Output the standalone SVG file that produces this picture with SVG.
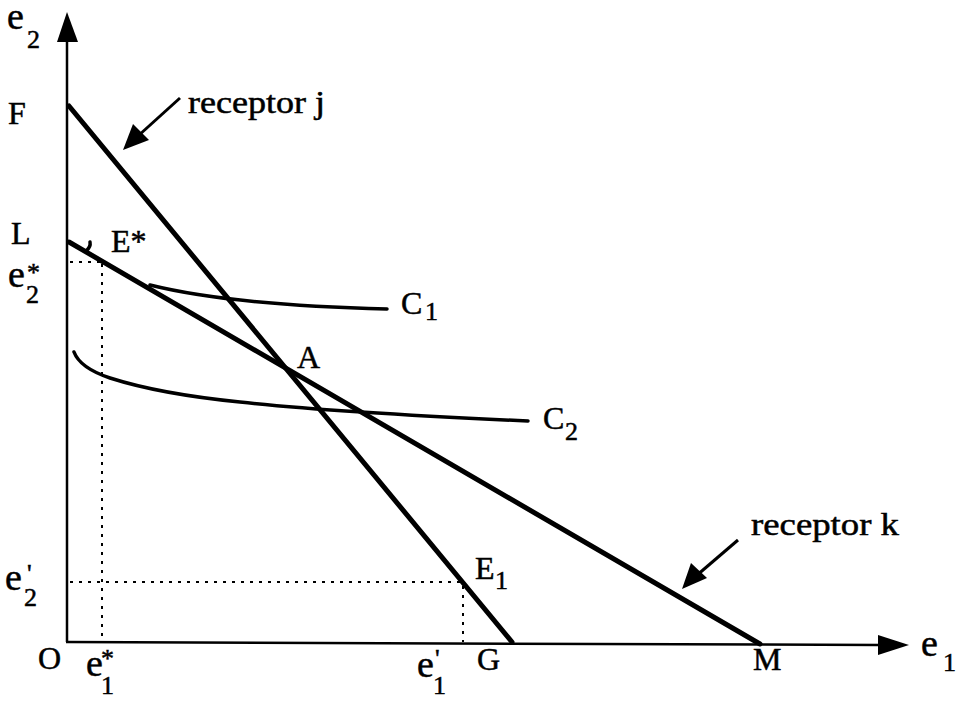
<svg xmlns="http://www.w3.org/2000/svg" width="961" height="703" viewBox="0 0 961 703">
<style>
.t{font-family:"Liberation Serif","Times New Roman",serif;fill:#000;stroke:#000;stroke-width:0.5}
.cap{font-size:32px}
.rec{font-size:31px}
.ev{font-size:38px}
.sub{font-size:26px}
.thick{stroke:#000;stroke-width:5;fill:none;stroke-linecap:round}
.curve{stroke:#000;stroke-width:3.5;fill:none;stroke-linecap:round}
.axis{stroke:#000;stroke-width:2.5;fill:none}
.dot{stroke:#000;stroke-width:2;stroke-dasharray:3 6;fill:none}
</style>
<rect width="961" height="703" fill="#fff"/>
<g id="axes">
<line class="axis" x1="67" y1="642" x2="67" y2="40"/>
<polygon points="67,12 57,42 78,42" fill="#000"/>
<line class="axis" x1="66" y1="642" x2="880" y2="645"/>
<polygon points="909,645 878,635 878,655" fill="#000"/>
</g>
<g id="connectors">
<line class="thick" x1="69" y1="106" x2="512" y2="642"/>
<line class="thick" x1="69" y1="242" x2="760" y2="644"/>
<path class="curve" d="M150,285 Q230,305 387,309"/>
<path class="curve" d="M74,352 Q80,368 110,378 Q160,394 240,402 Q330,412 528,421"/>
<path class="curve" d="M86,251 Q91,247 90,242"/>
<line class="dot" x1="70" y1="262" x2="102" y2="262"/>
<line class="dot" x1="102" y1="264" x2="102" y2="642"/>
<line class="dot" x1="70" y1="582" x2="463" y2="582"/>
<line class="dot" x1="463" y1="586" x2="463" y2="642"/>
<line stroke="#000" stroke-width="3" x1="180" y1="98" x2="138" y2="136"/>
<polygon points="123,150 133,124 149,140" fill="#000"/>
<line stroke="#000" stroke-width="3" x1="738" y1="540" x2="696" y2="576"/>
<polygon points="682,589 691,563 707,578" fill="#000"/>
</g>
<g id="label-e2"><text class="t ev" x="7" y="29">e</text><text class="t sub" x="27" y="48">2</text></g>
<g id="label-F"><text class="t cap" x="8" y="124">F</text></g>
<g id="label-receptor-j"><text class="t rec" x="188" y="113" textLength="137" lengthAdjust="spacingAndGlyphs">receptor j</text></g>
<g id="label-L"><text class="t cap" x="11" y="244">L</text></g>
<g id="label-Estar"><text class="t cap" x="111" y="252">E*</text></g>
<g id="label-e2star"><text class="t ev" x="8" y="287">e</text><text class="t sub" x="26" y="303">2</text><text class="t sub" x="27" y="281">*</text></g>
<g id="label-C1"><text class="t cap" x="401" y="314">C</text><text class="t sub" x="425" y="320">1</text></g>
<g id="label-A"><text class="t cap" x="297" y="368">A</text></g>
<g id="label-C2"><text class="t cap" x="543" y="429">C</text><text class="t sub" x="565" y="440">2</text></g>
<g id="label-receptor-k"><text class="t rec" x="751" y="535" textLength="148" lengthAdjust="spacingAndGlyphs">receptor k</text></g>
<g id="label-E1"><text class="t cap" x="475" y="579">E</text><text class="t sub" x="495" y="589">1</text></g>
<g id="label-e2prime"><text class="t ev" x="5" y="590">e</text><text class="t sub" x="24" y="606">2</text><text class="t sub" x="27" y="582">'</text></g>
<g id="label-O"><text class="t cap" x="38" y="669">O</text></g>
<g id="label-e1star"><text class="t ev" x="86" y="676">e</text><text class="t sub" x="101" y="694">1</text><text class="t sub" x="101" y="667">*</text></g>
<g id="label-e1prime"><text class="t ev" x="417" y="677">e</text><text class="t sub" x="433" y="694">1</text><text class="t sub" x="435" y="667">'</text></g>
<g id="label-G"><text class="t cap" x="477" y="670">G</text></g>
<g id="label-M"><text class="t cap" x="753" y="670">M</text></g>
<g id="label-e1"><text class="t ev" x="921" y="656">e</text><text class="t sub" x="943" y="671">1</text></g>
</svg>
